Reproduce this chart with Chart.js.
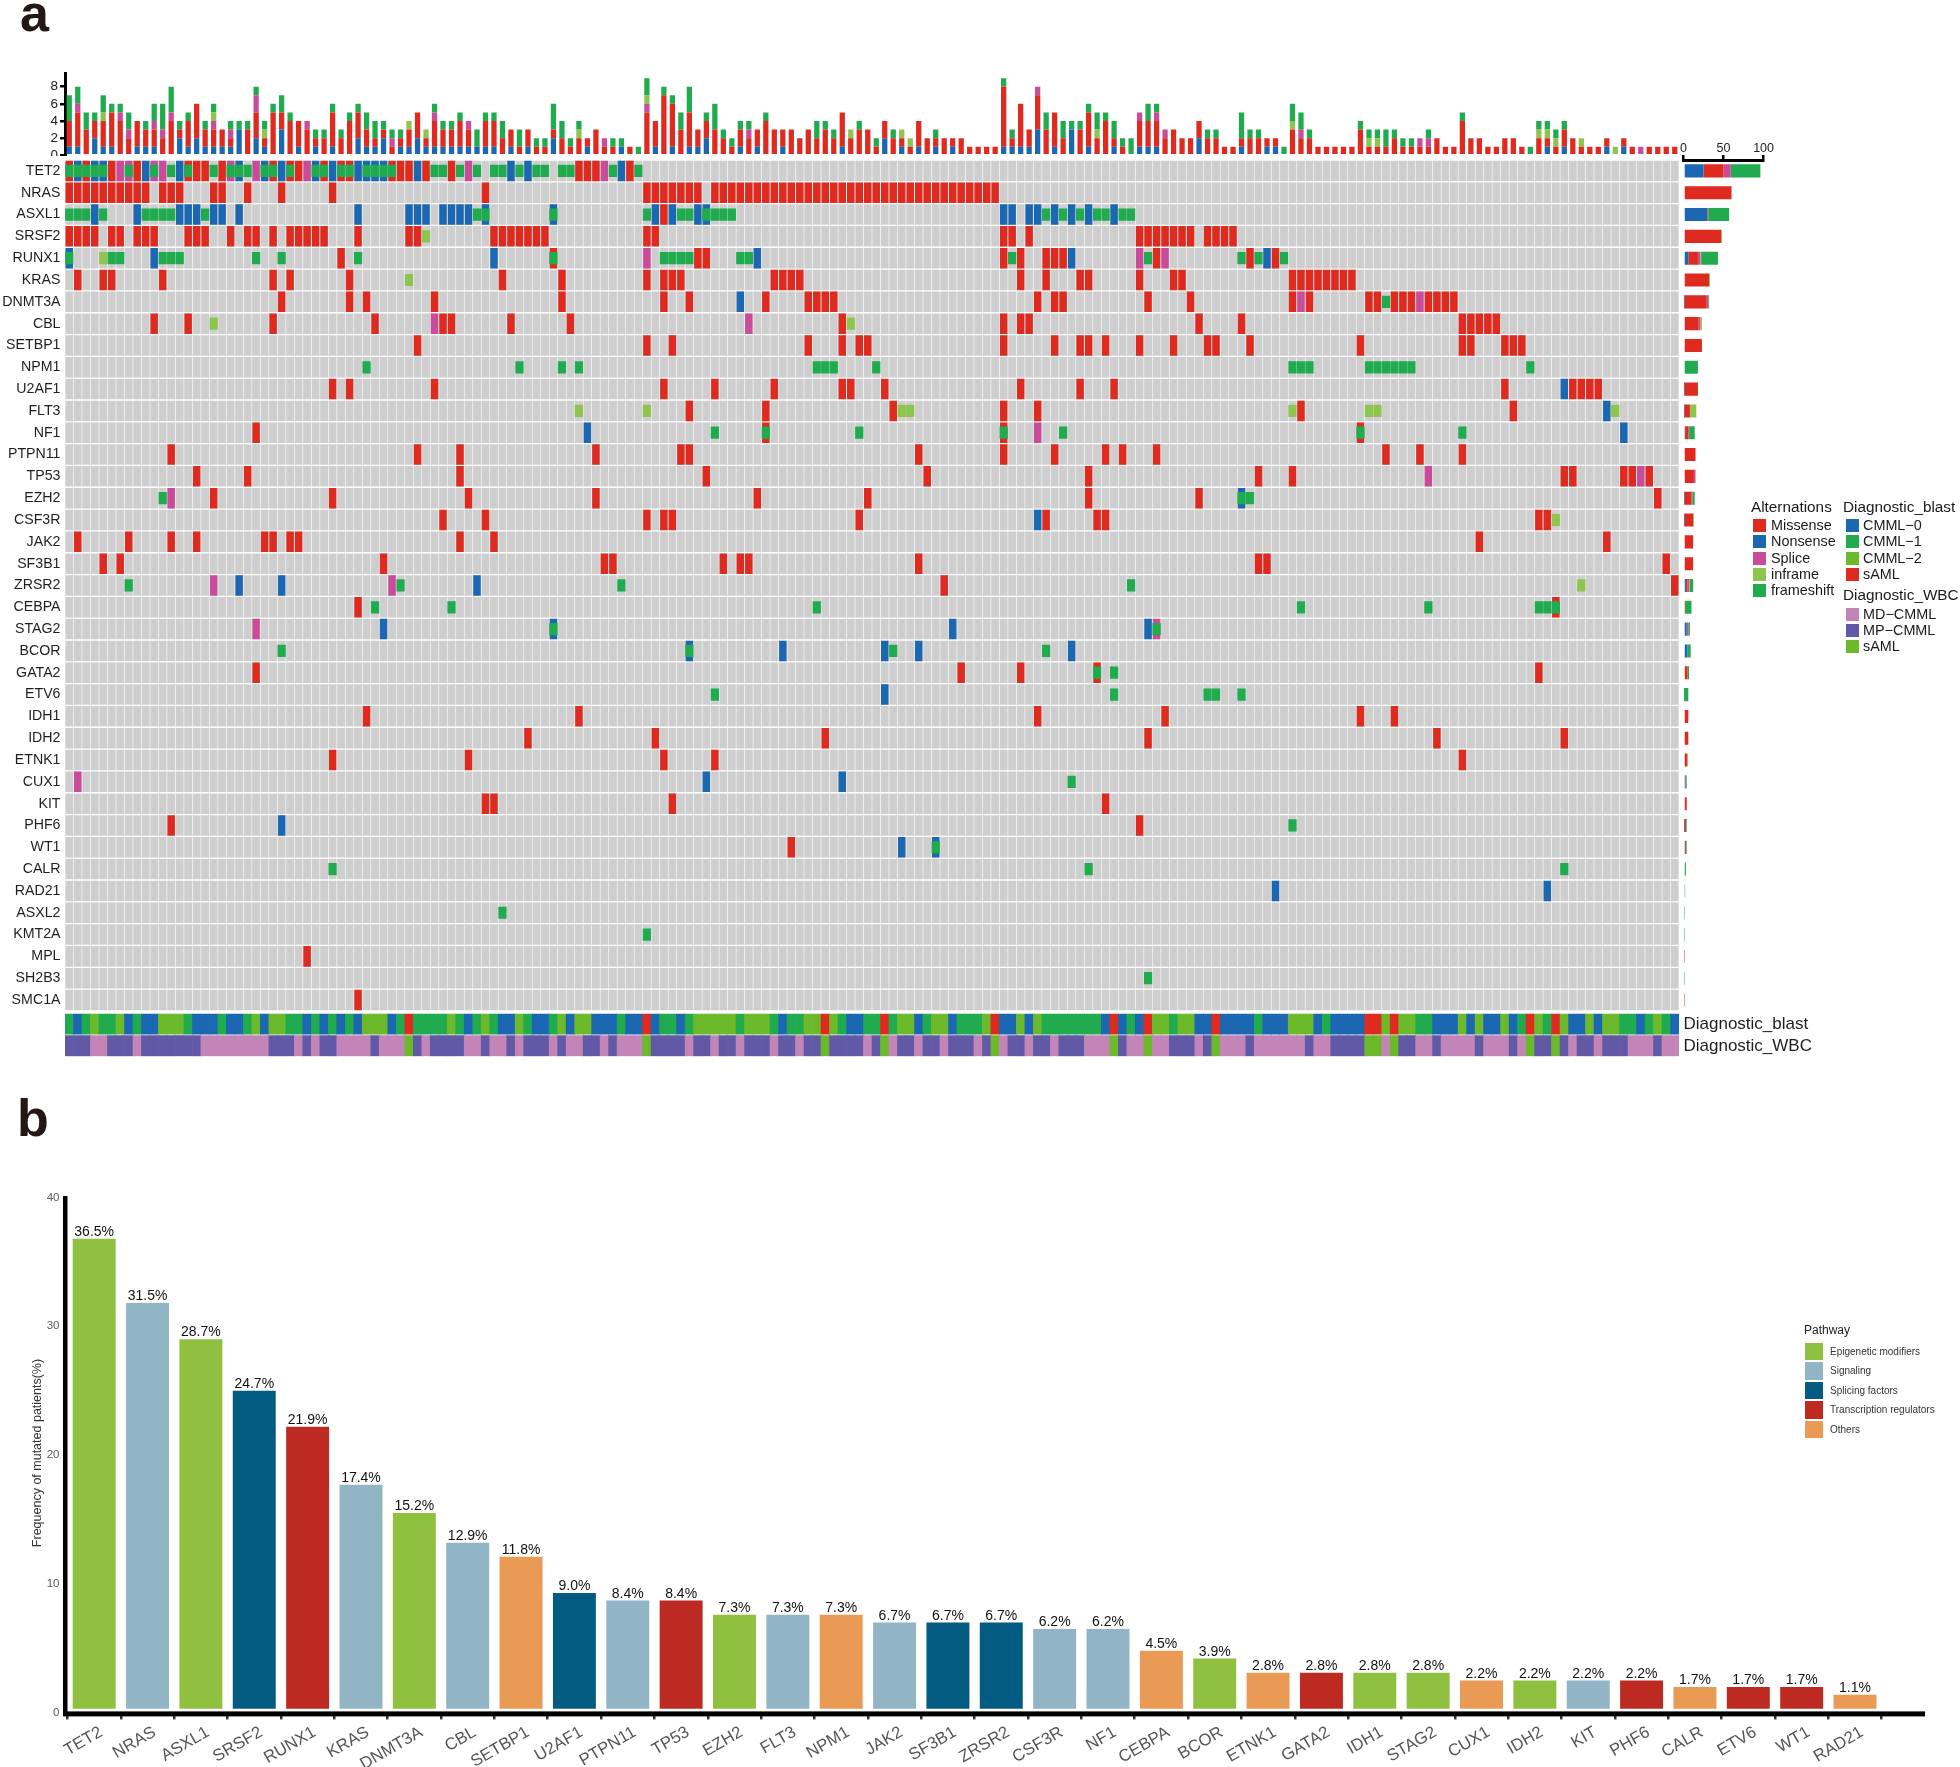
<!DOCTYPE html>
<html>
<head>
<meta charset="utf-8">
<title>Oncoprint and mutation frequency</title>
<script src="https://cdn.jsdelivr.net/npm/chart.js@4"></script>
<style>
html,body{margin:0;padding:0;background:#fff}
#page{position:relative;width:1960px;height:1767px;overflow:hidden;font-family:"Liberation Sans",Arial,sans-serif;color:#1a1a1a}
canvas{position:absolute;display:block}
.t{position:absolute;white-space:nowrap;line-height:1}
.s{position:absolute}
</style>
</head>
<body>
<div id="page"></div>
<script>
// ---------- panel a: genes, one row each
const genes = ['TET2','NRAS','ASXL1','SRSF2','RUNX1','KRAS','DNMT3A','CBL','SETBP1','NPM1','U2AF1','FLT3','NF1','PTPN11','TP53','EZH2','CSF3R','JAK2','SF3B1','ZRSR2','CEBPA','STAG2','BCOR','GATA2','ETV6','IDH1','IDH2','ETNK1','CUX1','KIT','PHF6','WT1','CALR','RAD21','ASXL2','KMT2A','MPL','SH2B3','SMC1A'];
const patientCount = 190;

// patient columns altered in each gene, by alteration type
const missense = {
TET2:[0,2,5,8,14,15,16,18,24,26,27,30,32,33,38,39,40,42,45,60,61,62,66],
NRAS:[0,1,2,3,4,5,6,7,8,9,11,12,13,17,18,21,25,31,49,68,69,70,71,72,73,74,76,77,78,79,80,81,82,83,84,85,86,87,88,89,90,91,92,93,94,95,96,97,98,99,100,101,102,103,104,105,106,107,108,109],
ASXL1:[70],
SRSF2:[0,1,2,3,5,6,8,9,10,14,15,16,19,21,22,24,26,27,28,29,30,34,40,41,50,51,52,53,54,55,56,68,69,110,111,113,126,127,128,129,130,131,132,134,135,136,137],
RUNX1:[32,57,74,75,110,112,115,116,117,128,139,142],
KRAS:[1,4,5,11,24,26,33,51,58,68,70,71,72,83,84,85,86,112,115,119,120,126,130,131,144,145,146,147,148,149,150,151],
DNMT3A:[25,33,35,43,58,70,73,82,87,88,89,90,114,116,117,127,132,144,146,153,154,156,157,158,160,161,162,163],
CBL:[10,14,24,36,44,45,52,59,91,110,112,113,133,138,164,165,166,167,168],
SETBP1:[41,68,71,87,91,93,94,110,116,119,120,122,126,130,134,135,139,152,164,165,169,170,171],
U2AF1:[31,33,43,70,76,83,91,92,96,112,119,123,169,177,178,179,180],
FLT3:[73,82,97,110,114,145,170],
NF1:[22,82,110,152],
PTPN11:[12,41,46,62,72,73,100,110,116,122,124,128,155,159,164],
TP53:[15,21,46,75,101,120,140,144,176,177,183,184,186],
EZH2:[17,31,47,62,81,94,120,133,187],
CSF3R:[44,49,68,70,71,93,115,121,122,173,174],
JAK2:[1,7,12,15,23,24,26,27,46,50,166,181],
SF3B1:[4,6,37,63,64,77,79,80,100,140,141,188],
ZRSR2:[103,189],
CEBPA:[34,175],
GATA2:[22,105,112,121,173],
IDH1:[35,60,114,129,152,156],
IDH2:[54,69,89,127,161,176],
ETNK1:[31,47,70,76,164],
KIT:[49,50,71,122],
PHF6:[12,126],
WT1:[85],
MPL:[28],
SMC1A:[34]
};
const nonsense = {
TET2:[1,3,4,9,13,20,23,25,29,31,34,35,36,37,41,52,54,65],
ASXL1:[3,8,13,14,15,17,18,20,34,40,41,42,44,45,46,47,49,57,69,71,74,75,110,111,113,114,116,118,120,123],
RUNX1:[0,10,50,81,118,141],
DNMT3A:[79],
U2AF1:[176],
FLT3:[181],
NF1:[61,183],
EZH2:[138],
CSF3R:[114],
ZRSR2:[20,25,48],
STAG2:[37,57,104,127],
BCOR:[73,84,96,100,118],
ETV6:[96],
CUX1:[75,91],
PHF6:[25],
WT1:[98,102],
RAD21:[142,174]
};
const splice = {
TET2:[6,7,10,11,19,22,28,47,63],
RUNX1:[68,126,129],
DNMT3A:[145,159],
CBL:[43,80],
NF1:[114],
TP53:[160,185],
EZH2:[12],
ZRSR2:[17,38],
STAG2:[22,128],
CUX1:[1]
};
const inframe = {
SRSF2:[42],
RUNX1:[4],
KRAS:[40],
CBL:[17,92],
FLT3:[60,68,98,99,144,153,154,182],
CSF3R:[175],
ZRSR2:[178]
};
const frameshift = {
TET2:[0,1,2,3,4,7,10,12,14,17,19,20,21,23,24,26,29,30,32,33,35,36,37,38,43,44,46,48,50,51,53,55,56,58,59,64,67],
ASXL1:[0,1,2,4,9,10,11,12,16,48,49,57,68,72,73,75,76,77,78,115,117,119,121,122,124,125],
RUNX1:[0,5,6,11,12,13,22,25,34,57,70,71,72,73,79,80,111,127,138,140,143],
DNMT3A:[155],
NPM1:[35,53,58,60,88,89,90,95,144,145,146,153,154,155,156,157,158,172],
NF1:[76,82,93,110,117,152,164],
EZH2:[11,138,139],
ZRSR2:[7,39,65,125],
CEBPA:[36,45,88,145,160,173,174,175],
STAG2:[57,128],
BCOR:[25,73,97,115],
GATA2:[121,123],
ETV6:[76,123,134,135,138],
CUX1:[118],
PHF6:[144],
WT1:[102],
CALR:[31,120,176],
ASXL2:[51],
KMT2A:[68],
SH2B3:[127]
};
// TET2 side bar (several hits per patient are hidden in its cells)
const sideTET2 = {b:25, r:25, p:9, l:0, g:37};

// mutations per patient, one token per column: b nonsense, r missense, p splice, l inframe, g frameshift
const burden = [
'b1r3g3','b1r4p1g2','r3g2','b2r2g1','b1r3l1g2','b1r4g1','r4p1g1','r2p1g2','b1r3','b1r2g1',
'b1r2p1g2','r2p1g3','r4p1g3','b2r1g1','b1r3g1','b2r4','b1r2g1','b1r2p1l1g1','b1r2','b1r1p1g1',
'b3g1','r3g1','b2r3p2g1','b1r1l1g1','r5g1','b3r2g2','r4g1','b1r3','r3p1','b1r1g1',
'r2g1','b1r4g1','r2g1','r4g1','b2r3g1','b1r2g2','b1r1g2','b2r1g1','r1p1g1','b1r1g1',
'b1r2l1','b2r3','b1r1l1','b1r3p1g1','b1r2g1','b1r2g1','b1r3g1','b1r2p1','b1g2','b1r3g1',
'b1r3g1','r2g2','b1r2','r1g2','b1r2','r1g1','r1g1','b2r1g3','r2g2','r1g1',
'r2l1g1','b1r1','r3','r1p1','r1g1','b1g1','r1','g1','r5p1l1g2','b1r3',
'r7g1','b1r5g1','r3g2','b1r4g3','b1r2','b2r2g1','r3g3','r2g1','r1g1','b1r2g1',
'r2p1g1','b1r2','r4g1','r3','b1r2','r3','r2','r3','r2g2','r3g1',
'r2g1','b1r4','r2l1','r3g1','r3','r1g1','b2r2','r2g1','b1r1l1','r1l1',
'b1r3','r2','b1r1g1','r2','b1r1','r2','r1','r1','r1','r1',
'b1r7g1','b1r1g1','b1r5','b1r2','b3r4p1','r3g2','b1r4','r2g2','b3g1','r3g1',
'b1r4g1','r2l1g2','r4g1','b1r1g2','r1g1','g2','b1r3p1','b1r3g2','b1r3p1g1','r2p1',
'r3','r2','r2','b2r2','r2g1','r2g1','r1','r1','b1r1g3','r2g1',
'r2g1','b1r1','b1r1','g1','r3l1g2','r2p1g2','r2g1','r1','r1','r1',
'r1','r1','r3g1','r1l1g1','r1l1g1','r1g2','r2g1','r1g1','r1g1','r1p1',
'r1p1g1','r2','r1','r1','r4g1','r2','r2','r1','r1','r2',
'r2','r1','g1','r2l1g1','b1r1l1g1','r1l1g1','b1r2g1','r2','r1l1','r1',
'r1','b1r1','l1','b1r1','r1','p1','r1','r1','r1','r1'
];

// annotation strips as runs of [code, columns]
const blastRuns = [
['G',1],['B',1],['G',1],['L',1],['G',2],['L',1],['B',1],['G',1],['B',2],['L',3],['G',1],['B',3],['G',1],['B',2],['G',1],['L',1],['B',1],['L',2],['G',2],['B',1],['G',1],['B',1],['G',1],['B',1],['G',1],['B',1],['L',3],['B',1],['G',1],['R',1],['G',4],['L',1],['G',1],['B',1],['G',1],['L',1],['G',1],['B',2],['L',1],['G',1],['B',2],['G',1],['L',1],['B',1],['L',2],['B',3],['G',1],['B',2],['R',1],['B',1],
['G',2],['B',1],['G',1],['L',5],['G',1],['L',3],['G',1],['B',1],['G',2],['L',2],['R',1],['L',1],['G',1],['B',2],['G',2],['R',1],['G',1],['L',2],['B',1],['G',1],['L',2],['B',1],['G',3],['L',1],['R',1],['B',2],['L',1],['B',1],['L',1],['G',7],['B',1],['R',1],['B',1],['G',1],['B',1],['R',1],['L',2],['G',1],['L',2],
['B',2],['R',1],['B',4],['G',1],['B',3],['L',3],['B',1],['G',1],['B',4],['R',2],['L',1],['R',1],['L',2],['G',2],['B',3],['L',1],['B',1],['L',1],['B',2],['L',1],['B',1],['G',1],['R',1],['L',1],['G',1],['R',1],['L',1],['B',2],['L',1],['B',1],['L',2],['G',2],['B',1],['G',1],['L',1],['G',1],['B',1]
];
const wbcRuns = [
['P',3],['M',2],['P',3],['M',1],['P',7],['M',8],['P',3],['M',1],['P',1],['M',1],['P',2],['M',4],['P',1],['M',3],['S',1],['P',1],['M',1],['P',4],['M',2],['P',1],['M',2],['P',1],['M',1],['P',3],['M',1],['P',1],['M',2],['P',2],['M',1],['P',1],['M',3],['S',1],['P',1],
['P',3],['M',1],['P',2],['M',1],['P',2],['M',1],['P',3],['M',1],['P',2],['M',1],['P',2],['S',1],['P',4],['M',1],['P',1],['S',1],['M',1],['P',2],['M',1],['P',2],['M',1],['P',3],['M',1],['P',1],['S',1],['M',1],['P',2],['M',1],['P',2],['M',1],['P',3],['M',3],['S',1],['P',1],['M',2],['S',1],['M',2],['P',3],
['M',1],['P',1],['S',1],['M',3],['P',1],['M',6],['P',1],['M',2],['P',4],['S',2],['M',1],['S',1],['P',2],['M',2],['P',1],['M',4],['P',1],['M',3],['P',1],['M',1],['S',1],['P',2],['S',1],['P',1],['M',1],['P',2],['M',1],['P',3],['M',3],['P',1],['M',2]
];

// ---------- panel b
const freqGenes = ['TET2','NRAS','ASXL1','SRSF2','RUNX1','KRAS','DNMT3A','CBL','SETBP1','U2AF1','PTPN11','TP53','EZH2','FLT3','NPM1','JAK2','SF3B1','ZRSR2','CSF3R','NF1','CEBPA','BCOR','ETNK1','GATA2','IDH1','STAG2','CUX1','IDH2','KIT','PHF6','CALR','ETV6','WT1','RAD21'];
const freqValues = [36.5,31.5,28.7,24.7,21.9,17.4,15.2,12.9,11.8,9.0,8.4,8.4,7.3,7.3,7.3,6.7,6.7,6.7,6.2,6.2,4.5,3.9,2.8,2.8,2.8,2.8,2.2,2.2,2.2,2.2,1.7,1.7,1.7,1.1];
const freqPathway = ['E','S','E','F','T','S','E','S','O','F','S','T','E','S','O','S','F','F','S','S','O','E','O','T','E','E','O','E','S','T','O','T','T','O'];
const freqTicks = [0,10,20,30,40];

// ---------- styles
const FONT = '"Liberation Sans", Arial, sans-serif';
const C = {r:'#DF2A20', b:'#1C67B1', p:'#CB4B9B', l:'#8EC54E', g:'#1FAB4E', grey:'#CDCECD'};
const blastColor = {B:'#1C67B1', G:'#1FAB4E', L:'#6CBA2B', R:'#DF2A20'};
const wbcColor = {M:'#C384B8', P:'#6259A6', S:'#6CBA2B'};
const pathwayColor = {E:'#8FC03F', S:'#92B5C6', F:'#045B82', T:'#BC2A22', O:'#E99A55'};
Chart.defaults.font.family = FONT;
Chart.defaults.animation = false;
Chart.defaults.responsive = false;
Chart.defaults.devicePixelRatio = 1;
Chart.defaults.plugins.legend.display = false;
Chart.defaults.plugins.tooltip.enabled = false;

const page = document.getElementById('page');
function canvas(left, top, w, h){
  const c = document.createElement('canvas');
  c.width = w; c.height = h;
  c.style.left = left+'px'; c.style.top = top+'px';
  c.style.width = w+'px'; c.style.height = h+'px';
  page.appendChild(c);
  return c;
}
function text(str, x, cy, size, opts){
  opts = opts || {};
  const d = document.createElement('div');
  d.className = 't'; d.textContent = str;
  d.style.left = x+'px'; d.style.top = (cy-size/2)+'px';
  d.style.fontSize = size+'px';
  if (opts.bold) d.style.fontWeight = 'bold';
  if (opts.color) d.style.color = opts.color;
  page.appendChild(d);
}
function swatch(x, y, w, h, color){
  const d = document.createElement('div');
  d.className = 's';
  d.style.cssText = `left:${x}px;top:${y}px;width:${w}px;height:${h}px;background:${color}`;
  page.appendChild(d);
}
const columns = Array.from({length:patientCount}, (_, i) => i);
// y axes keep their fixed band and do not inset the plot for half a label
function fixY(width){ return s => { s.width = width; s.paddingTop = 0; s.paddingBottom = 0; }; }

// ---------- top stacked bars: mutation burden
const burdenLetters = ['b','r','p','l','g'];
const burdenSeries = {};
burdenLetters.forEach(k => {
  burdenSeries[k] = burden.map(tok => { const m = tok.match(new RegExp(k+'(\\d)')); return m ? +m[1] : 0; });
});
new Chart(canvas(0, 60, 1679, 96), {
  type:'bar',
  data:{labels:columns, datasets:burdenLetters.map(k => ({data:burdenSeries[k], backgroundColor:C[k], barPercentage:.62, categoryPercentage:1}))},
  options:{
    layout:{padding:{top:13, bottom:.7}},
    scales:{
      x:{stacked:true, display:false},
      y:{stacked:true, min:0, max:9.6,
        afterFit:fixY(65),
        afterBuildTicks:s => { s.ticks = [0,2,4,6,8].map(v => ({value:v})); },
        border:{color:'#000', width:3},
        grid:{drawOnChartArea:false, color:'#000', lineWidth:2.5, tickLength:5},
        ticks:{color:'#222', font:{size:13.5}, padding:2}
      }
    }
  }
});

// ---------- central oncoprint, drawn as floating bars
function cells(table, pad){
  const out = [];
  genes.forEach((g, r) => (table[g] || []).forEach(c => out.push({x:c, y:[r+pad, r+1-pad]})));
  return out;
}
function expand(runs){ const o = []; runs.forEach(([code, n]) => { for (let i=0;i<n;i++) o.push(code); }); return o; }
const blastCol = expand(blastRuns), wbcCol = expand(wbcRuns);
const STRIP1 = [39.14, 40.07], STRIP2 = [40.13, 41.08];
const greyCells = [];
genes.forEach((g, r) => columns.forEach(c => greyCells.push({x:c, y:[r+.03, r+.97]})));
const heatSets = [
  {data:blastCol.map((k,c) => ({x:c, y:STRIP1})), backgroundColor:blastCol.map(k => blastColor[k]), barPercentage:1, categoryPercentage:1},
  {data:wbcCol.map((k,c) => ({x:c, y:STRIP2})), backgroundColor:wbcCol.map(k => wbcColor[k]), barPercentage:1, categoryPercentage:1},
  {data:cells(frameshift,.22), backgroundColor:C.g, barPercentage:.97, categoryPercentage:1},
  {data:cells(inframe,.22), backgroundColor:C.l, barPercentage:.97, categoryPercentage:1},
  {data:cells(splice,.03), backgroundColor:C.p, barPercentage:.88, categoryPercentage:1},
  {data:cells(nonsense,.03), backgroundColor:C.b, barPercentage:.88, categoryPercentage:1},
  {data:cells(missense,.03), backgroundColor:C.r, barPercentage:.88, categoryPercentage:1},
  {data:greyCells, backgroundColor:C.grey, barPercentage:.93, categoryPercentage:1}
].map(d => Object.assign(d, {grouped:false}));
const HEAT_MAX = 41.08;
new Chart(canvas(0, 155, 1870, 902), {
  type:'bar',
  data:{labels:columns, datasets:heatSets},
  options:{
    layout:{padding:{top:5, bottom:.7}},
    scales:{
      x:{display:false},
      y:{min:0, max:HEAT_MAX, reverse:true,
        afterFit:fixY(65),
        afterBuildTicks:s => { s.ticks = genes.map((g,i) => ({value:i+.5})); },
        border:{display:false},
        grid:{display:false, drawTicks:false},
        ticks:{autoSkip:false, color:'#1f1f1f', font:{size:14.2}, padding:4.5, callback:(v,i) => genes[i]}
      },
      y2:{type:'linear', axis:'y', position:'right', min:0, max:HEAT_MAX, reverse:true,
        afterFit:fixY(191),
        afterBuildTicks:s => { s.ticks = [39.62, 40.6].map(v => ({value:v})); },
        border:{display:false},
        grid:{display:false, drawTicks:false},
        ticks:{autoSkip:false, color:'#1f1f1f', font:{size:17}, padding:4.5, callback:(v,i) => ['Diagnostic_blast','Diagnostic_WBC'][i]}
      }
    }
  }
});

// ---------- right side bars: count per gene, from the table above
function sideCounts(table, key){ return genes.map(g => g === 'TET2' ? sideTET2[key] : (table[g] || []).length); }
const sideSets = [[nonsense,'b'],[missense,'r'],[splice,'p'],[inframe,'l'],[frameshift,'g']]
  .map(([t,k]) => ({data:sideCounts(t,k), backgroundColor:C[k], barPercentage:1, categoryPercentage:.6}));
new Chart(canvas(1670, 130, 112, 881), {
  type:'bar',
  data:{labels:genes, datasets:sideSets},
  options:{
    indexAxis:'y',
    layout:{padding:{left:13.5, right:18.4}},
    scales:{
      y:{stacked:true, display:false},
      x:{stacked:true, position:'top', min:0, max:100,
        afterFit:s => { s.height = 30; },
        afterBuildTicks:s => { s.ticks = [0,50,100].map(v => ({value:v})); },
        border:{color:'#000', width:3},
        grid:{drawOnChartArea:false, color:'#000', lineWidth:2.5, tickLength:5},
        ticks:{color:'#222', font:{size:12.5}, padding:-1, maxRotation:0, minRotation:0}
      }
    }
  }
});

// ---------- legends of panel a
text('a', 20, 13, 52, {bold:true, color:'#231815'});
text('Alternations', 1751, 507, 15.3);
text('Diagnostic_blast', 1843, 507, 15.3);
[['Missense',C.r,525],['Nonsense',C.b,541.5],['Splice',C.p,558],['inframe',C.l,574],['frameshift',C.g,590]].forEach(([n,c,y]) => {
  swatch(1753, y-6.5, 13, 13, c); text(n, 1771, y, 14.4);
});
[['CMML\u22120',blastColor.B,525],['CMML\u22121',blastColor.G,541.5],['CMML\u22122',blastColor.L,558],['sAML',blastColor.R,574]].forEach(([n,c,y]) => {
  swatch(1846, y-6.5, 13, 13, c); text(n, 1863, y, 14.4);
});
text('Diagnostic_WBC', 1843, 595, 15.3);
[['MD\u2212CMML',wbcColor.M,614],['MP\u2212CMML',wbcColor.P,630],['sAML',wbcColor.S,646.5]].forEach(([n,c,y]) => {
  swatch(1846, y-6.5, 13, 13, c); text(n, 1863, y, 14.4);
});

// ---------- panel b
const valueLabels = {
  id:'valueLabels',
  afterDatasetsDraw(chart){
    const ctx = chart.ctx, meta = chart.getDatasetMeta(0);
    ctx.save();
    ctx.font = '14px '+FONT; ctx.fillStyle = '#111'; ctx.textAlign = 'center'; ctx.textBaseline = 'alphabetic';
    meta.data.forEach((el,i) => ctx.fillText(freqValues[i].toFixed(1)+'%', el.x, el.y-2.8));
    ctx.restore();
  }
};
const thickAxes = {
  id:'thickAxes',
  afterDraw(chart){
    const ctx = chart.ctx, a = chart.chartArea;
    ctx.save();
    ctx.fillStyle = '#000';
    ctx.fillRect(38, 16, 4.5, a.bottom - 16 + 3);       // y axis line
    ctx.fillRect(38, a.bottom - 1, 1864, 5);            // x axis line
    ctx.restore();
  }
};
new Chart(canvas(25, 1180, 1900, 587), {
  type:'bar',
  data:{labels:freqGenes, datasets:[{data:freqValues, backgroundColor:freqPathway.map(k => pathwayColor[k]), barPercentage:.805, categoryPercentage:1}]},
  options:{
    layout:{padding:{top:13.6, right:43.3}},
    scales:{
      x:{
        afterFit:s => { s.height = 54.6; },
        border:{display:false},
        grid:{drawOnChartArea:false, color:'#333', lineWidth:2.5, tickLength:7},
        ticks:{autoSkip:false, minRotation:30, maxRotation:30, color:'#555', font:{size:16.8}, padding:3, labelOffset:7}
      },
      y:{min:-.28, max:40,
        afterFit:fixY(42.5),
        afterBuildTicks:s => { s.ticks = freqTicks.map(v => ({value:v})); },
        border:{display:false},
        grid:{display:false, drawTicks:false},
        ticks:{color:'#5a5a5a', font:{size:11.5}, padding:8, labelOffset:3.8},
        title:{display:true, text:'Frequency of mutated patients(%)', color:'#333', font:{size:12.5}, padding:{top:5,bottom:0}}
      }
    }
  },
  plugins:[valueLabels, thickAxes]
});
text('b', 17, 1118, 52, {bold:true, color:'#231815'});
text('Pathway', 1804, 1330, 12, {color:'#222'});
[['Epigenetic modifiers','E'],['Signaling','S'],['Splicing factors','F'],['Transcription regulators','T'],['Others','O']].forEach(([n,k],i) => {
  swatch(1805, 1342.6+19.5*i, 18, 17.7, pathwayColor[k]);
  text(n, 1830, 1351.8+19.5*i, 10, {color:'#333'});
});
</script>
</body>
</html>
